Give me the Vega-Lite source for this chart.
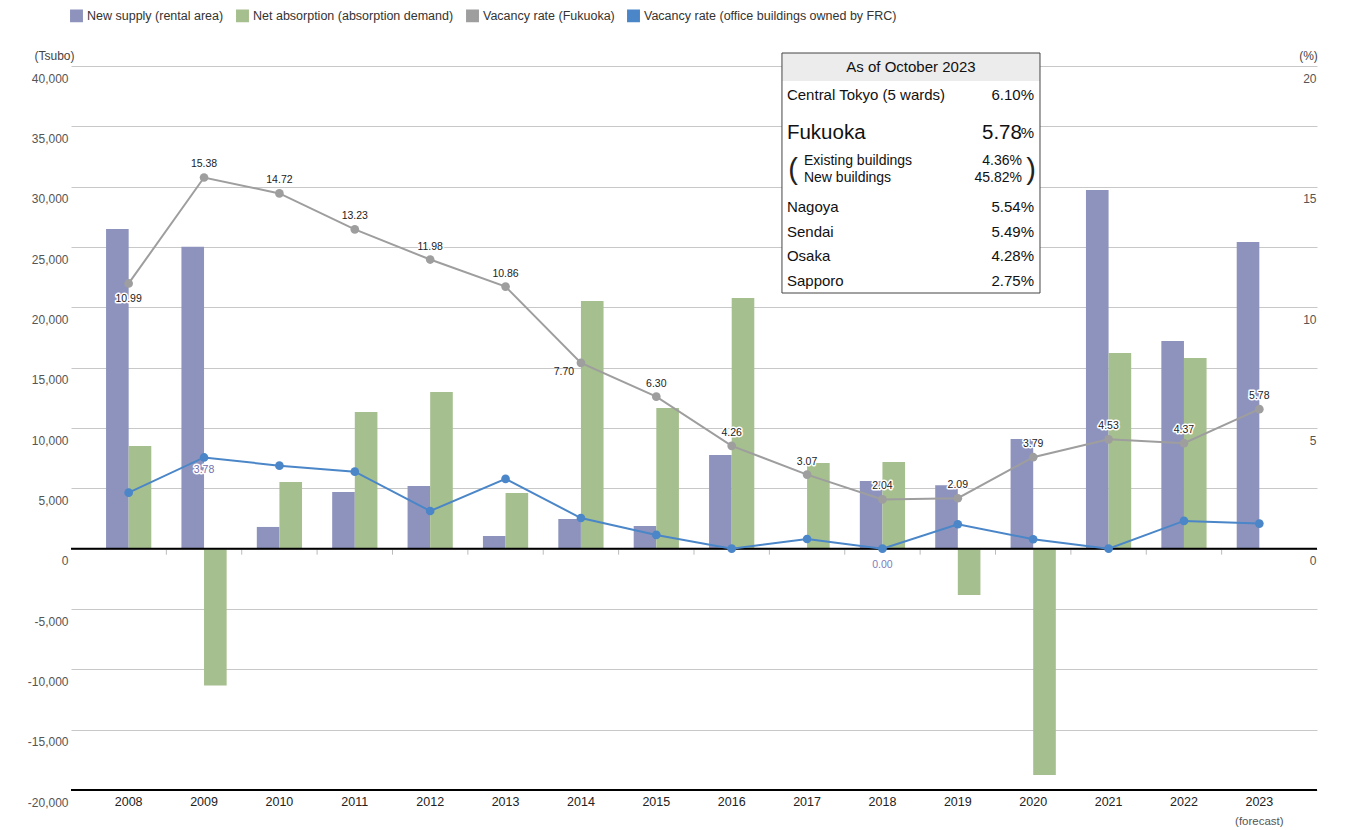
{
  "$schema": "https://vega.github.io/schema/vega-lite/v6.json",
  "width": 1246,
  "height": 724,
  "autosize": {"type": "none"},
  "padding": {"left": 71, "top": 66, "right": 30, "bottom": 40},
  "background": "#ffffff",
  "config": {"view": {"stroke": null}, "font": "Liberation Sans"},
  "datasets": {
    "supply": [
      {"year": "2008", "series": "New supply (rental area)", "value": 26490},
      {"year": "2009", "series": "New supply (rental area)", "value": 25030},
      {"year": "2010", "series": "New supply (rental area)", "value": 1800},
      {"year": "2011", "series": "New supply (rental area)", "value": 4700},
      {"year": "2012", "series": "New supply (rental area)", "value": 5200},
      {"year": "2013", "series": "New supply (rental area)", "value": 1050},
      {"year": "2014", "series": "New supply (rental area)", "value": 2460},
      {"year": "2015", "series": "New supply (rental area)", "value": 1880},
      {"year": "2016", "series": "New supply (rental area)", "value": 7770},
      {"year": "2017", "series": "New supply (rental area)", "value": 0},
      {"year": "2018", "series": "New supply (rental area)", "value": 5610},
      {"year": "2019", "series": "New supply (rental area)", "value": 5250},
      {"year": "2020", "series": "New supply (rental area)", "value": 9090},
      {"year": "2021", "series": "New supply (rental area)", "value": 29730},
      {"year": "2022", "series": "New supply (rental area)", "value": 17210},
      {"year": "2023", "series": "New supply (rental area)", "value": 25420},
      {"year": "2008", "series": "Net absorption (absorption demand)", "value": 8510},
      {"year": "2009", "series": "Net absorption (absorption demand)", "value": -11350},
      {"year": "2010", "series": "Net absorption (absorption demand)", "value": 5530},
      {"year": "2011", "series": "Net absorption (absorption demand)", "value": 11330},
      {"year": "2012", "series": "Net absorption (absorption demand)", "value": 12990},
      {"year": "2013", "series": "Net absorption (absorption demand)", "value": 4620},
      {"year": "2014", "series": "Net absorption (absorption demand)", "value": 20530},
      {"year": "2015", "series": "Net absorption (absorption demand)", "value": 11660},
      {"year": "2016", "series": "Net absorption (absorption demand)", "value": 20780},
      {"year": "2017", "series": "Net absorption (absorption demand)", "value": 7100},
      {"year": "2018", "series": "Net absorption (absorption demand)", "value": 7190},
      {"year": "2019", "series": "Net absorption (absorption demand)", "value": -3840},
      {"year": "2020", "series": "Net absorption (absorption demand)", "value": -18750},
      {"year": "2021", "series": "Net absorption (absorption demand)", "value": 16220},
      {"year": "2022", "series": "Net absorption (absorption demand)", "value": 15800}
    ],
    "vacancy": [
      {"year": "2008", "series": "Vacancy rate (Fukuoka)", "rate": 10.99},
      {"year": "2009", "series": "Vacancy rate (Fukuoka)", "rate": 15.38},
      {"year": "2010", "series": "Vacancy rate (Fukuoka)", "rate": 14.72},
      {"year": "2011", "series": "Vacancy rate (Fukuoka)", "rate": 13.23},
      {"year": "2012", "series": "Vacancy rate (Fukuoka)", "rate": 11.98},
      {"year": "2013", "series": "Vacancy rate (Fukuoka)", "rate": 10.86},
      {"year": "2014", "series": "Vacancy rate (Fukuoka)", "rate": 7.70},
      {"year": "2015", "series": "Vacancy rate (Fukuoka)", "rate": 6.30},
      {"year": "2016", "series": "Vacancy rate (Fukuoka)", "rate": 4.26},
      {"year": "2017", "series": "Vacancy rate (Fukuoka)", "rate": 3.07},
      {"year": "2018", "series": "Vacancy rate (Fukuoka)", "rate": 2.04},
      {"year": "2019", "series": "Vacancy rate (Fukuoka)", "rate": 2.09},
      {"year": "2020", "series": "Vacancy rate (Fukuoka)", "rate": 3.79},
      {"year": "2021", "series": "Vacancy rate (Fukuoka)", "rate": 4.53},
      {"year": "2022", "series": "Vacancy rate (Fukuoka)", "rate": 4.37},
      {"year": "2023", "series": "Vacancy rate (Fukuoka)", "rate": 5.78},
      {"year": "2008", "series": "Vacancy rate (office buildings owned by FRC)", "rate": 2.32},
      {"year": "2009", "series": "Vacancy rate (office buildings owned by FRC)", "rate": 3.78},
      {"year": "2010", "series": "Vacancy rate (office buildings owned by FRC)", "rate": 3.44},
      {"year": "2011", "series": "Vacancy rate (office buildings owned by FRC)", "rate": 3.19},
      {"year": "2012", "series": "Vacancy rate (office buildings owned by FRC)", "rate": 1.56},
      {"year": "2013", "series": "Vacancy rate (office buildings owned by FRC)", "rate": 2.89},
      {"year": "2014", "series": "Vacancy rate (office buildings owned by FRC)", "rate": 1.27},
      {"year": "2015", "series": "Vacancy rate (office buildings owned by FRC)", "rate": 0.57},
      {"year": "2016", "series": "Vacancy rate (office buildings owned by FRC)", "rate": 0.00},
      {"year": "2017", "series": "Vacancy rate (office buildings owned by FRC)", "rate": 0.40},
      {"year": "2018", "series": "Vacancy rate (office buildings owned by FRC)", "rate": 0.00},
      {"year": "2019", "series": "Vacancy rate (office buildings owned by FRC)", "rate": 1.01},
      {"year": "2020", "series": "Vacancy rate (office buildings owned by FRC)", "rate": 0.39},
      {"year": "2021", "series": "Vacancy rate (office buildings owned by FRC)", "rate": 0.00},
      {"year": "2022", "series": "Vacancy rate (office buildings owned by FRC)", "rate": 1.15},
      {"year": "2023", "series": "Vacancy rate (office buildings owned by FRC)", "rate": 1.04}
    ],
    "table": [
      {"area": "Central Tokyo (5 wards)", "rate": 6.10, "row": 1, "group": "city"},
      {"area": "Fukuoka", "rate": 5.78, "row": 2, "group": "focus"},
      {"area": "Existing buildings", "rate": 4.36, "row": 3, "group": "breakdown"},
      {"area": "New buildings", "rate": 45.82, "row": 4, "group": "breakdown"},
      {"area": "Nagoya", "rate": 5.54, "row": 5, "group": "city"},
      {"area": "Sendai", "rate": 5.49, "row": 6, "group": "city"},
      {"area": "Osaka", "rate": 4.28, "row": 7, "group": "city"},
      {"area": "Sapporo", "rate": 2.75, "row": 8, "group": "city"}
    ],
    "tableTitle": [{"title": "As of October 2023", "note": "(forecast)"}],
    "baseline": [{"note": "baseline"}]
  },
  "layer": [
    {
      "data": {"name": "supply"},
      "layer": [
        {
          "mark": {"type": "bar"},
          "encoding": {
            "x": {
              "field": "year", "type": "nominal",
              "scale": {"paddingInner": 0.4, "paddingOuter": 0.465},
              "axis": {
                "orient": "bottom", "title": null, "domain": false, "ticks": false, "grid": false,
                "labelPadding": 5, "labelFontSize": 12.5, "labelColor": "#222", "labelAngle": 0
              }
            },
            "xOffset": {"field": "series", "type": "nominal", "sort": "descending"},
            "y": {
              "field": "value", "type": "quantitative",
              "scale": {"domain": [-20000, 40000], "nice": false, "zero": false},
              "axis": {
                "orient": "left", "values": [-20000, -15000, -10000, -5000, 0, 5000, 10000, 15000, 20000, 25000, 30000, 35000, 40000],
                "labelExpr": "replace(format(datum.value, ','), '\u2212', '-')",
                "grid": true, "gridColor": "#c8c8c8", "gridWidth": 1, "domain": false, "ticks": false,
                "labelOffset": 12, "labelPadding": 3, "labelFontSize": 12, "labelColor": "#555",
                "title": "(Tsubo)", "titleAngle": 0, "titleX": -17, "titleY": -11, "titleAlign": "center", "titleBaseline": "middle",
                "titleFontSize": 12, "titleFontWeight": "normal", "titleColor": "#444"
              }
            },
            "color": {
              "field": "series", "type": "nominal",
              "scale": {
                "domain": ["New supply (rental area)", "Net absorption (absorption demand)", "Vacancy rate (Fukuoka)", "Vacancy rate (office buildings owned by FRC)"],
                "range": ["#8e93bd", "#a6bf8e", "#9e9e9e", "#4a86c8"]
              },
              "legend": {
                "orient": "none", "legendX": -1, "legendY": -57, "direction": "horizontal", "title": null,
                "labelFontSize": 12.5, "labelColor": "#333", "labelLimit": 400, "symbolType": "square", "symbolSize": 130,
                "labelOffset": 4, "columnPadding": 9
              }
            }
          }
        },
        {
          "transform": [{"filter": "datum.series === 'New supply (rental area)' && datum.year !== '2023'"}],
          "mark": {"type": "rule", "color": "#bbbbbb", "strokeWidth": 1},
          "encoding": {
            "x": {"field": "year", "type": "nominal", "bandPosition": 1.3333},
            "y": {"datum": 0},
            "y2": {"datum": -500}
          }
        },
        {
          "data": {"name": "baseline"},
          "mark": {"type": "rule", "color": "#000000", "strokeWidth": 2},
          "encoding": {"y": {"datum": 0}}
        },
        {
          "data": {"name": "baseline"},
          "mark": {"type": "rule", "color": "#000000", "strokeWidth": 2},
          "encoding": {"y": {"datum": -20000}}
        },
        {
          "data": {"name": "tableTitle"},
          "mark": {"type": "text", "fontSize": 11.5, "color": "#555555", "align": "center", "baseline": "middle"},
          "encoding": {
            "x": {"datum": "2023"},
            "y": {"datum": -22650},
            "text": {"field": "note"}
          }
        }
      ]
    },
    {
      "data": {"name": "vacancy"},
      "encoding": {
        "x": {"field": "year", "type": "nominal"},
        "y": {
          "field": "rate", "type": "quantitative",
          "scale": {"domain": [-10, 20], "nice": false, "zero": false},
          "axis": {
            "orient": "right", "values": [0, 5, 10, 15, 20], "grid": false, "domain": false, "ticks": false,
            "labelAlign": "right", "labelPadding": -1, "labelOffset": 12, "labelFontSize": 12, "labelColor": "#555",
            "title": "(%)", "titleAngle": 0, "titleX": -9, "titleY": -11, "titleAlign": "center", "titleBaseline": "middle",
            "titleFontSize": 12, "titleFontWeight": "normal", "titleColor": "#444"
          }
        },
        "color": {"field": "series", "type": "nominal"}
      },
      "layer": [
        {"mark": {"type": "line", "strokeWidth": 2}},
        {"mark": {"type": "point", "filled": true, "size": 75, "opacity": 1}},
        {
          "transform": [{"filter": "datum.series === 'Vacancy rate (Fukuoka)' && datum.year !== '2008' && datum.year !== '2014'"}],
          "mark": {"type": "text", "fontSize": 10.5, "dy": -13, "stroke": "#ffffff", "strokeWidth": 3, "strokeJoin": "round", "align": "center", "baseline": "middle"},
          "encoding": {"text": {"field": "rate", "format": ".2f"}, "color": {"value": "#ffffff"}}
        },
        {
          "transform": [{"filter": "datum.series === 'Vacancy rate (Fukuoka)' && datum.year !== '2008' && datum.year !== '2014'"}],
          "mark": {"type": "text", "fontSize": 10.5, "dy": -13, "align": "center", "baseline": "middle"},
          "encoding": {"text": {"field": "rate", "format": ".2f"}, "color": {"value": "#222222"}}
        },
        {
          "transform": [{"filter": "datum.series === 'Vacancy rate (Fukuoka)' && datum.year === '2008'"}],
          "mark": {"type": "text", "fontSize": 10.5, "dy": 16, "stroke": "#ffffff", "strokeWidth": 3, "strokeJoin": "round", "align": "center", "baseline": "middle"},
          "encoding": {"text": {"field": "rate", "format": ".2f"}, "color": {"value": "#ffffff"}}
        },
        {
          "transform": [{"filter": "datum.series === 'Vacancy rate (Fukuoka)' && datum.year === '2008'"}],
          "mark": {"type": "text", "fontSize": 10.5, "dy": 16, "align": "center", "baseline": "middle"},
          "encoding": {"text": {"field": "rate", "format": ".2f"}, "color": {"value": "#222222"}}
        },
        {
          "transform": [{"filter": "datum.series === 'Vacancy rate (Fukuoka)' && datum.year === '2014'"}],
          "mark": {"type": "text", "fontSize": 10.5, "dx": -17, "dy": 9, "align": "center", "baseline": "middle"},
          "encoding": {"text": {"field": "rate", "format": ".2f"}, "color": {"value": "#222222"}}
        },
        {
          "transform": [{"filter": "datum.series === 'Vacancy rate (office buildings owned by FRC)' && datum.year === '2009'"}],
          "mark": {"type": "text", "fontSize": 10.5, "dy": 13, "stroke": "#ffffff", "strokeWidth": 3, "strokeJoin": "round", "align": "center", "baseline": "middle"},
          "encoding": {"text": {"field": "rate", "format": ".2f"}, "color": {"value": "#ffffff"}}
        },
        {
          "transform": [{"filter": "datum.series === 'Vacancy rate (office buildings owned by FRC)' && datum.year === '2009'"}],
          "mark": {"type": "text", "fontSize": 10.5, "dy": 13, "align": "center", "baseline": "middle"},
          "encoding": {"text": {"field": "rate", "format": ".2f"}, "color": {"value": "#6f6fb0"}}
        },
        {
          "transform": [{"filter": "datum.series === 'Vacancy rate (office buildings owned by FRC)' && datum.year === '2018'"}],
          "mark": {"type": "text", "fontSize": 10.5, "dy": 16, "align": "center", "baseline": "middle"},
          "encoding": {"text": {"field": "rate", "format": ".2f"}, "color": {"value": "#7d7dbd"}}
        }
      ]
    },
    {
      "layer": [
        {
          "data": {"name": "tableTitle"},
          "mark": {"type": "rect", "fill": "#ffffff"},
          "encoding": {
            "x": {"datum": "2017", "bandPosition": -0.055},
            "x2": {"datum": "2017", "bandPosition": 5.65},
            "y": {"datum": -0.5, "type": "quantitative", "scale": {"domain": [-0.5, 0, 1, 2, 3, 4, 5, 8.5], "range": [-13, 1, 29, 67, 95, 112, 141, 227], "nice": false, "zero": false}, "axis": null},
            "y2": {"datum": 8.5}
          }
        },
        {
          "data": {"name": "tableTitle"},
          "mark": {"type": "rect", "fill": "#ececec"},
          "encoding": {
            "x": {"datum": "2017", "bandPosition": -0.055},
            "x2": {"datum": "2017", "bandPosition": 5.65},
            "y": {"datum": -0.5, "type": "quantitative", "axis": null},
            "y2": {"datum": 0.5}
          }
        },
        {
          "data": {"name": "tableTitle"},
          "mark": {"type": "rect", "fill": "#ffffff", "fillOpacity": 0, "stroke": "#444444", "strokeWidth": 1},
          "encoding": {
            "x": {"datum": "2017", "bandPosition": -0.055},
            "x2": {"datum": "2017", "bandPosition": 5.65},
            "y": {"datum": -0.5, "type": "quantitative", "axis": null},
            "y2": {"datum": 8.5}
          }
        },
        {
          "data": {"name": "tableTitle"},
          "mark": {"type": "text", "fontSize": 15, "color": "#111111", "align": "center", "baseline": "middle"},
          "encoding": {
            "x": {"datum": "2017", "bandPosition": 2.797},
            "y": {"datum": 0, "type": "quantitative", "axis": null},
            "text": {"field": "title"}
          }
        },
        {
          "data": {"name": "table"},
          "transform": [{"filter": "datum.group === 'city'"}],
          "mark": {"type": "text", "fontSize": 15, "color": "#111111", "align": "left", "baseline": "middle"},
          "encoding": {
            "x": {"datum": "2017", "bandPosition": 0.055},
            "y": {"field": "row", "type": "quantitative", "axis": null},
            "text": {"field": "area"}
          }
        },
        {
          "data": {"name": "table"},
          "transform": [{"filter": "datum.group === 'city'"}],
          "mark": {"type": "text", "fontSize": 15, "color": "#111111", "align": "right", "baseline": "middle"},
          "encoding": {
            "x": {"datum": "2017", "bandPosition": 5.223},
            "y": {"field": "row", "type": "quantitative", "axis": null},
            "text": {"field": "rate", "format": ".2f"}
          }
        },
        {
          "data": {"name": "table"},
          "transform": [{"filter": "datum.group !== 'breakdown'"}],
          "mark": {"type": "text", "fontSize": 15, "color": "#111111", "align": "right", "baseline": "middle"},
          "encoding": {
            "x": {"datum": "2017", "bandPosition": 5.518},
            "y": {"field": "row", "type": "quantitative", "axis": null},
            "text": {"value": "%"}
          }
        },
        {
          "data": {"name": "table"},
          "transform": [{"filter": "datum.group === 'focus'"}],
          "mark": {"type": "text", "fontSize": 20.5, "color": "#111111", "align": "left", "baseline": "middle"},
          "encoding": {
            "x": {"datum": "2017", "bandPosition": 0.055},
            "y": {"field": "row", "type": "quantitative", "axis": null},
            "text": {"field": "area"}
          }
        },
        {
          "data": {"name": "table"},
          "transform": [{"filter": "datum.group === 'focus'"}],
          "mark": {"type": "text", "fontSize": 20.5, "color": "#111111", "align": "right", "baseline": "middle"},
          "encoding": {
            "x": {"datum": "2017", "bandPosition": 5.25},
            "y": {"field": "row", "type": "quantitative", "axis": null},
            "text": {"field": "rate", "format": ".2f"}
          }
        },
        {
          "data": {"name": "table"},
          "transform": [{"filter": "datum.group === 'breakdown'"}],
          "mark": {"type": "text", "fontSize": 14, "color": "#111111", "align": "left", "baseline": "middle"},
          "encoding": {
            "x": {"datum": "2017", "bandPosition": 0.431},
            "y": {"field": "row", "type": "quantitative", "axis": null},
            "text": {"field": "area"}
          }
        },
        {
          "data": {"name": "table"},
          "transform": [{"filter": "datum.group === 'breakdown'"}],
          "mark": {"type": "text", "fontSize": 14, "color": "#111111", "align": "right", "baseline": "middle"},
          "encoding": {
            "x": {"datum": "2017", "bandPosition": 4.977},
            "y": {"field": "row", "type": "quantitative", "axis": null},
            "text": {"field": "rate", "format": ".2f"}
          }
        },
        {
          "data": {"name": "table"},
          "transform": [{"filter": "datum.group === 'breakdown'"}],
          "mark": {"type": "text", "fontSize": 14, "color": "#111111", "align": "right", "baseline": "middle"},
          "encoding": {
            "x": {"datum": "2017", "bandPosition": 5.252},
            "y": {"field": "row", "type": "quantitative", "axis": null},
            "text": {"value": "%"}
          }
        },
        {
          "data": {"name": "tableTitle"},
          "mark": {"type": "text", "fontSize": 29, "color": "#222222", "align": "center", "baseline": "middle"},
          "encoding": {
            "x": {"datum": "2017", "bandPosition": 0.188},
            "y": {"datum": 3.5, "type": "quantitative", "axis": null},
            "text": {"value": "("}
          }
        },
        {
          "data": {"name": "tableTitle"},
          "mark": {"type": "text", "fontSize": 29, "color": "#222222", "align": "center", "baseline": "middle"},
          "encoding": {
            "x": {"datum": "2017", "bandPosition": 5.452},
            "y": {"datum": 3.5, "type": "quantitative", "axis": null},
            "text": {"value": ")"}
          }
        }
      ]
    }
  ],
  "resolve": {"scale": {"y": "independent"}}
}
